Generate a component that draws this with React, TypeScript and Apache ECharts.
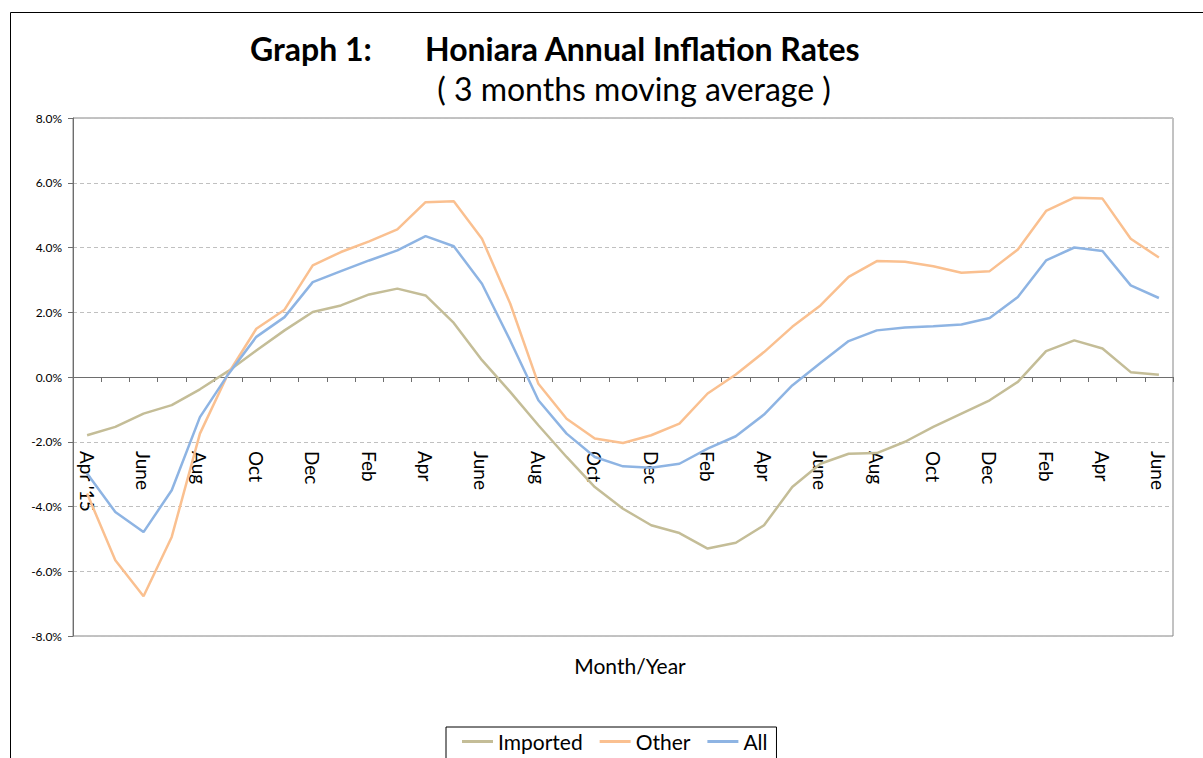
import React, { useEffect, useRef } from "react";
import * as echarts from "echarts";

const months: string[] = [
  "Apr '15", "May", "June", "July", "Aug", "Sep", "Oct", "Nov", "Dec", "Jan", "Feb", "Mar",
  "Apr", "May", "June", "July", "Aug", "Sep", "Oct", "Nov", "Dec", "Jan", "Feb", "Mar",
  "Apr", "May", "June", "July", "Aug", "Sep", "Oct", "Nov", "Dec", "Jan", "Feb", "Mar",
  "Apr", "May", "June",
];

const imported: number[] = [
  -1.8, -1.54, -1.13, -0.87, -0.38, 0.18, 0.82, 1.44, 2.01, 2.21,
  2.55, 2.73, 2.52, 1.67, 0.52, -0.46, -1.49, -2.47, -3.4, -4.07,
  -4.58, -4.82, -5.3, -5.12, -4.58, -3.4, -2.68, -2.37, -2.35, -2.0,
  -1.54, -1.13, -0.72, -0.15, 0.8, 1.13, 0.88, 0.15, 0.07,
];

const other: number[] = [
  -3.6, -5.66, -6.77, -4.94, -1.75, 0.1, 1.49, 2.08, 3.45, 3.86,
  4.19, 4.56, 5.4, 5.43, 4.27, 2.27, -0.21, -1.29, -1.9, -2.04,
  -1.8, -1.44, -0.51, 0.08, 0.77, 1.55, 2.21, 3.09, 3.58, 3.56,
  3.42, 3.22, 3.27, 3.94, 5.13, 5.54, 5.51, 4.27, 3.69,
];

const all: number[] = [
  -2.98, -4.17, -4.79, -3.5, -1.24, 0.08, 1.24, 1.85, 2.93, 3.27,
  3.6, 3.91, 4.35, 4.04, 2.88, 1.13, -0.72, -1.75, -2.47, -2.76,
  -2.8, -2.68, -2.21, -1.83, -1.16, -0.26, 0.43, 1.11, 1.44, 1.53,
  1.57, 1.62, 1.82, 2.47, 3.6, 4.0, 3.89, 2.83, 2.44,
];

const seriesNames: string[] = ["Imported", "Other", "All"];
const seriesColors: string[] = ["#C4BD97", "#FAC090", "#8EB4E3"];

const FONT = "Lato, 'Open Sans', sans-serif";

export default function App() {
  const ref = useRef<HTMLDivElement>(null);

  useEffect(() => {
    document.body.style.margin = "0";
    if (!ref.current) return;
    const chart = echarts.init(ref.current, null, { renderer: "svg" });
    const values = [imported, other, all];
    chart.setOption({
      animation: false,
      backgroundColor: "#ffffff",
      textStyle: { fontFamily: FONT },
      graphic: [
        {
          type: "rect",
          silent: true,
          z: -10,
          shape: { x: 10.5, y: 12.5, width: 1400, height: 1000 },
          style: { fill: "none", stroke: "#000000", lineWidth: 1 },
        },
        {
          type: "text",
          x: 250,
          y: 48,
          style: {
            text: "Graph 1:",
            fontFamily: FONT,
            fontSize: 32,
            fontWeight: "bold",
            fill: "#000",
            textAlign: "left",
            textVerticalAlign: "middle",
          },
        },
        {
          type: "text",
          x: 425,
          y: 48,
          style: {
            text: "Honiara Annual Inflation Rates",
            fontFamily: FONT,
            fontSize: 32,
            fontWeight: "bold",
            fill: "#000",
            textAlign: "left",
            textVerticalAlign: "middle",
          },
        },
        {
          type: "text",
          x: 634,
          y: 88,
          style: {
            text: "( 3 months moving average )",
            fontFamily: FONT,
            fontSize: 32,
            fill: "#000",
            textAlign: "center",
            textVerticalAlign: "middle",
          },
        },
        {
          type: "text",
          x: 630,
          y: 665,
          style: {
            text: "Month/Year",
            fontFamily: FONT,
            fontSize: 21,
            fill: "#000",
            textAlign: "center",
            textVerticalAlign: "middle",
          },
        },
      ],
      legend: {
        left: 446,
        top: 727,
        orient: "horizontal",
        borderColor: "#000",
        borderWidth: 1,
        borderRadius: 0,
        padding: [4, 9, 10, 16],
        itemWidth: 31,
        itemHeight: 3,
        itemGap: 17,
        icon: "rect",
        textStyle: { fontFamily: FONT, fontSize: 21, color: "#000" },
        data: seriesNames,
      },
      grid: {
        left: 73,
        right: 30,
        top: 118,
        bottom: 122,
        show: true,
        borderColor: "#868686",
        borderWidth: 1,
        containLabel: false,
      },
      xAxis: {
        type: "category",
        data: months,
        boundaryGap: true,
        axisLine: { onZero: true, lineStyle: { color: "#6e6e6e", width: 1 } },
        axisTick: {
          show: true,
          interval: 0,
          length: 5,
          inside: false,
          lineStyle: { color: "#6e6e6e" },
        },
        axisLabel: {
          interval: 1,
          rotate: -90,
          margin: -185,
          fontFamily: FONT,
          fontSize: 19,
          color: "#000",
        },
        splitLine: { show: false },
      },
      yAxis: {
        type: "value",
        min: -8,
        max: 8,
        interval: 2,
        axisLine: { show: true, lineStyle: { color: "#6e6e6e" } },
        axisTick: { show: true, length: 5, lineStyle: { color: "#6e6e6e" } },
        axisLabel: {
          formatter: (v: number) => v.toFixed(1) + "%",
          fontFamily: FONT,
          fontSize: 12,
          color: "#000",
          margin: 11,
        },
        splitLine: {
          show: true,
          lineStyle: { color: "#c0c0c0", type: [4, 3], width: 1 },
        },
      },
      series: seriesNames.map((name, i) => ({
        name,
        type: "line",
        data: values[i],
        symbol: "none",
        showSymbol: false,
        lineStyle: { color: seriesColors[i], width: 2.5 },
        itemStyle: { color: seriesColors[i] },
        z: 3 + i,
      })),
    });
    return () => chart.dispose();
  }, []);

  return (
    <div
      ref={ref}
      style={{ position: "fixed", left: 0, top: 0, width: 1203, height: 758 }}
    />
  );
}
